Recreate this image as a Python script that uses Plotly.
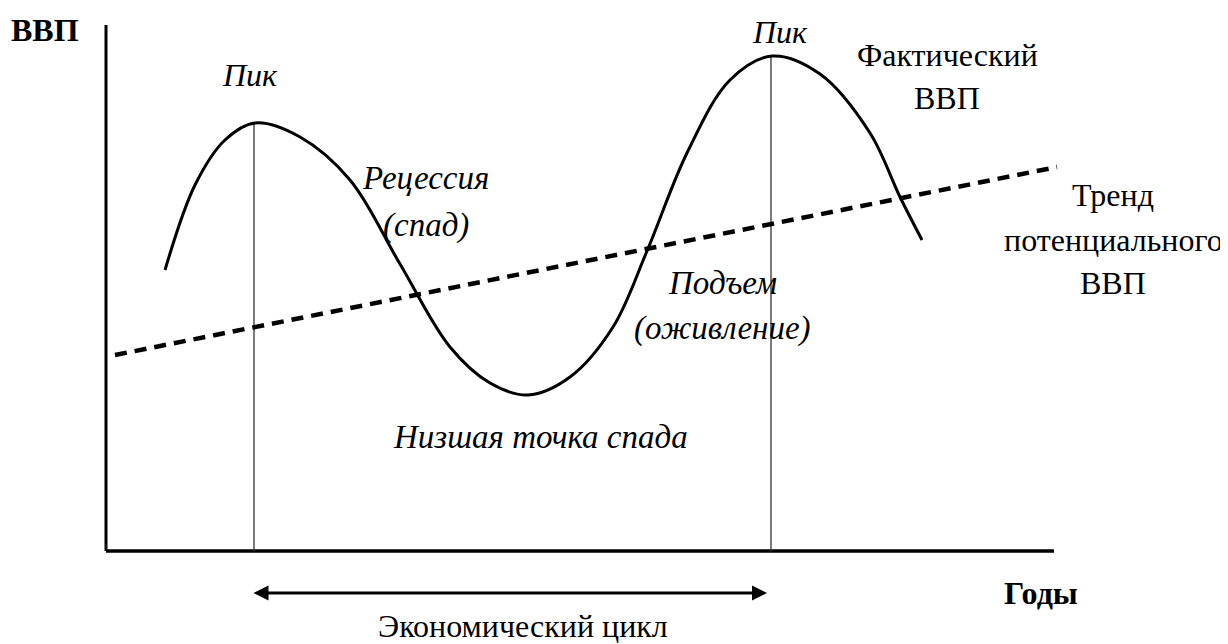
import plotly.graph_objects as go

# Actual GDP curve (time units, GDP units above the time axis)
t_actual = [165, 195, 225, 255, 300, 350, 400, 450, 490, 528,
            570, 613, 647, 687, 730, 772, 820, 870, 900, 922]
gdp_actual = [281, 366, 411, 428, 414, 371, 287, 204, 168, 156,
              174, 224, 300, 398, 471, 495, 477, 418, 354, 311]

# Potential GDP trend
t_trend = [115, 1057]
gdp_trend = [196, 384]

# Peaks
t_peaks = [254, 771]
gdp_peaks = [428, 495]

# Axes extents
t_axis = [106, 1054]
gdp_axis_top = 526

FONT = "Liberation Serif"
fig = go.Figure()

# Axes
fig.add_trace(go.Scatter(x=[t_axis[0], t_axis[0]], y=[gdp_axis_top, 0], mode="lines",
                         line=dict(color="black", width=3), hoverinfo="skip"))
fig.add_trace(go.Scatter(x=[t_axis[0], t_axis[1]], y=[0, 0], mode="lines",
                         line=dict(color="black", width=3.5), hoverinfo="skip"))

# Peak vertical lines
for tp, gp in zip(t_peaks, gdp_peaks):
    fig.add_trace(go.Scatter(x=[tp, tp], y=[0, gp], mode="lines",
                             line=dict(color="#333", width=1.3), hoverinfo="skip"))

# Trend
fig.add_trace(go.Scatter(x=t_trend, y=gdp_trend, mode="lines",
                         line=dict(color="black", width=4.5, dash="12px,8px"), hoverinfo="skip"))

# Actual GDP
fig.add_trace(go.Scatter(x=t_actual, y=gdp_actual, mode="lines",
                         line=dict(color="black", width=3, shape="spline", smoothing=1.0),
                         hoverinfo="skip"))

labels = [
    ("ВВП", 45, 521, True, False, 32),
    ("Пик", 250, 476, False, True, 32),
    ("Пик", 780, 519, False, True, 32),
    ("Рецессия", 425, 373, False, True, 33),
    ("(спад)", 426, 326, False, True, 33),
    ("Подъем", 722, 268, False, True, 33),
    ("(оживление)", 722, 223, False, True, 33),
    ("Низшая точка спада", 540, 114, False, True, 33),
    ("Фактический", 947, 496, False, False, 32),
    ("ВВП", 947, 453, False, False, 32),
    ("Тренд", 1113, 356, False, False, 32),
    ("потенциального", 1113, 311, False, False, 32),
    ("ВВП", 1113, 268, False, False, 32),
    ("Годы", 1041, -42, True, False, 32),
    ("Экономический цикл", 523, -75, False, False, 32),
]
for text, x, y, bold, italic, size in labels:
    s = text
    if bold:
        s = f"<b>{s}</b>"
    if italic:
        s = f"<i>{s}</i>"
    fig.add_annotation(x=x, y=y, text=s, showarrow=False, xref="x", yref="y",
                       font=dict(family=FONT, size=size, color="black"),
                       xanchor="center", yanchor="middle")

# Cycle arrow (between peaks)
fig.add_annotation(x=t_peaks[1] - 4, y=-42, ax=t_peaks[0] - 2, ay=-42, xref="x", yref="y",
                   axref="x", ayref="y", text="", showarrow=True, arrowhead=2,
                   arrowside="end+start", arrowsize=1, arrowwidth=3, arrowcolor="black")

# The page body adds an 8 px offset; the figure is sized/ranged to compensate.
fig.update_layout(
    width=1220, height=636, margin=dict(l=0, r=0, t=0, b=0),
    plot_bgcolor="white", paper_bgcolor="white", showlegend=False,
    xaxis=dict(range=[8, 1228], visible=False, fixedrange=True),
    yaxis=dict(range=[-93, 543], visible=False, fixedrange=True),
)

fig.write_html("out.html")
